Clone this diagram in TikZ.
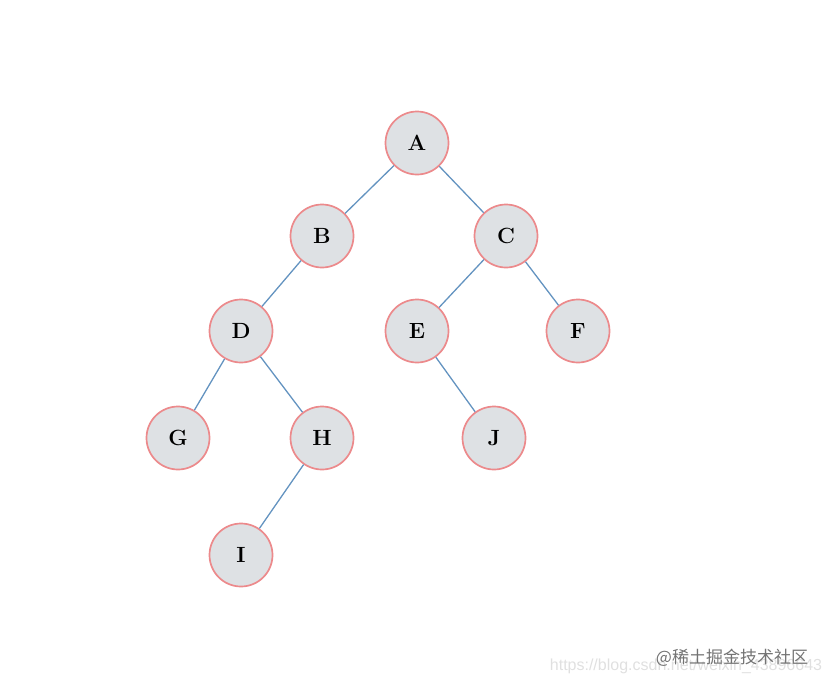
\documentclass[tikz,border=0pt]{standalone}
\usepackage{fontspec}
\newfontfamily\cjk{Noto Sans CJK SC}
\newfontfamily\wmfont{Liberation Sans}
\usepackage{tikz}
\usetikzlibrary{positioning}
\definecolor{nodefill}{HTML}{DEE1E4}
\definecolor{nodeedge}{HTML}{EC8A8C}
\definecolor{branch}{HTML}{6393C0}

\begin{document}
\begin{tikzpicture}[x=1pt,y=-1pt,
  treenode/.style={circle,draw=nodeedge,fill=nodefill,line width=1.7pt,minimum size=63pt,inner sep=0pt,font=\fontsize{22}{22}\selectfont\bfseries},
  branchline/.style={draw=branch,line width=1.3pt}]
  \useasboundingbox (0,0) rectangle (831,691);

  \node at(417,143)[treenode](A){A};
  \node at(322,236)[treenode](B){B};
  \node at(506,236)[treenode](C){C};
  \node at(241,331)[treenode](D){D};
  \node at(417,331)[treenode](E){E};
  \node at(578,331)[treenode](F){F};
  \node at(178,438)[treenode](G){G};
  \node at(322,438)[treenode](H){H};
  \node at(494,438)[treenode](J){J};
  \node at(241,555)[treenode](I){I};

  \draw [branchline](A) -- (B);
  \draw [branchline](A) -- (C);
  \draw [branchline](B) -- (D);
  \draw [branchline](C) -- (E);
  \draw [branchline](C) -- (F);
  \draw [branchline](D) -- (G);
  \draw [branchline](D) -- (H);
  \draw [branchline](E) -- (J);
  \draw [branchline](H) -- (I);

  \node at(686,666)(url){\wmfont\fontsize{16}{16}\selectfont\color{black!12}https://blog.csdn.net/weixin\_43896643};
  \node at(732,658)(mark){\cjk\fontsize{17}{17}\selectfont\color{black!55}@稀土掘金技术社区};
\end{tikzpicture}
\end{document}
